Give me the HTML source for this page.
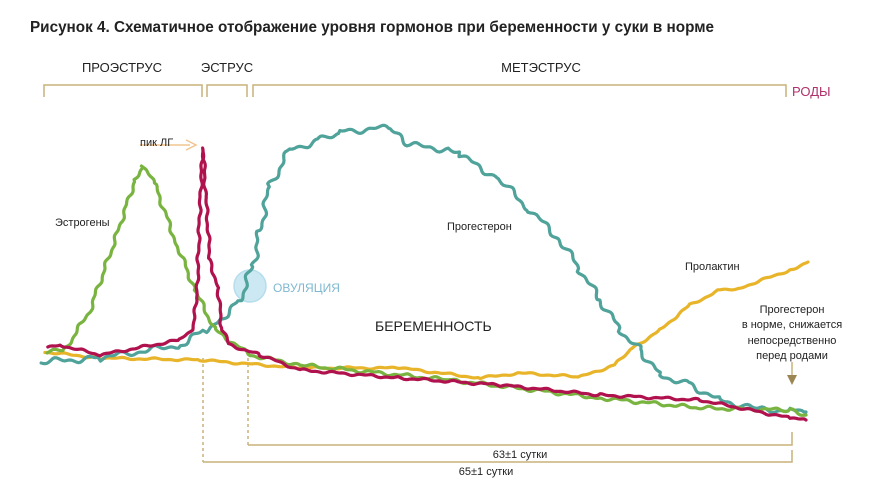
<!DOCTYPE html>
<html><head><meta charset="utf-8"><style>
html,body{margin:0;padding:0;background:#fff}
svg{display:block}
text{font-family:"Liberation Sans","DejaVu Sans",sans-serif}
</style></head><body>
<svg id="s" width="895" height="504" viewBox="0 0 895 504" xmlns="http://www.w3.org/2000/svg">
<text x="30" y="32" font-size="15.5" font-weight="bold" fill="#222" textLength="684" lengthAdjust="spacingAndGlyphs">Рисунок 4. Схематичное отображение уровня гормонов при беременности у суки в норме</text>
<g font-size="13" fill="#222">
<text x="122" y="72" text-anchor="middle">ПРОЭСТРУС</text>
<text x="227" y="72" text-anchor="middle">ЭСТРУС</text>
<text x="541" y="72" text-anchor="middle">МЕТЭСТРУС</text>
</g>
<text x="792" y="96" font-size="13" fill="#b0306a">РОДЫ</text>
<g stroke="#c9b27a" stroke-width="1.5" fill="none">
<path d="M44,97 V85 H202 V97"/>
<path d="M207,97 V85 H247 V97"/>
<path d="M253,97 V85 H786 V97"/>
<path d="M248,445 H792 V432"/>
<path d="M203,462 H792 V450"/>
<path d="M203,358 V462" stroke-dasharray="3,3"/>
<path d="M248,358 V445" stroke-dasharray="3,3"/>
<path d="M792,362 V378"/>
</g>
<path d="M787,375 L792,385 L797,375 Z" fill="#9b8550"/>
<path d="M140,145 H190" stroke="#f1c58f" stroke-width="1.5"/>
<path d="M186,140 L196,145 L186,150" stroke="#f1c58f" stroke-width="1.5" fill="none"/>
<circle cx="250" cy="286" r="16" fill="#c4e6f2" stroke="#a9d8ea" stroke-width="1.5" opacity="0.85"/>
<g id="curves" fill="none" stroke-width="3.2" stroke-linejoin="round" stroke-linecap="round"></g>
<g font-size="11" fill="#222">
<text x="140" y="146">пик ЛГ</text>
<text x="55" y="226">Эстрогены</text>
<text x="447" y="230">Прогестерон</text>
<text x="685" y="270">Пролактин</text>
<g text-anchor="middle"><text x="792" y="313">Прогестерон</text><text x="792" y="328">в норме, снижается</text><text x="792" y="344">непосредственно</text><text x="792" y="359">перед родами</text></g>
<text x="520" y="458" text-anchor="middle">63±1 сутки</text>
<text x="486" y="475" text-anchor="middle">65±1 сутки</text>
</g>
<text x="273" y="292" font-size="12" fill="#7fb8d0">ОВУЛЯЦИЯ</text>
<text x="375" y="331" font-size="14" fill="#222">БЕРЕМЕННОСТЬ</text>
</svg>
<script>
function curve(pts,amp,freq,seed,color,w){
  var d="",first=true;
  for(var i=0;i<pts.length-1;i++){
    var a=pts[i],b=pts[i+1],n=Math.max(2,Math.round(Math.hypot(b[0]-a[0],b[1]-a[1])/2));
    for(var k=0;k<n;k++){
      var t=k/n,x=a[0]+(b[0]-a[0])*t,y=a[1]+(b[1]-a[1])*t;
      var dx=b[0]-a[0],dy=b[1]-a[1],L=Math.hypot(dx,dy)||1;
      var s=(i*37+k)*freq+seed;
      var ww=amp*(Math.sin(s)*0.6+Math.sin(s*2.3+1)*0.4);
      x+=-dy/L*ww;y+=dx/L*ww;
      d+=(first?"M":"L")+x.toFixed(1)+","+y.toFixed(1);first=false;
    }
  }
  var l=pts[pts.length-1];d+="L"+l[0]+","+l[1];
  var p=document.createElementNS("http://www.w3.org/2000/svg","path");
  p.setAttribute("d",d);p.setAttribute("stroke",color);
  if(w)p.setAttribute("stroke-width",w);
  document.getElementById("curves").appendChild(p);
}
curve([[45,352],[100,358],[200,360],[300,368],[400,368],[480,378],[520,373],[580,377],[615,365],[630,350],[660,330],[690,305],[720,290],[740,288],[790,270],[808,262]],1.2,0.35,1,"#e8b42a");
curve([[41,362],[100,358],[180,345],[205,330],[220,320],[240,300],[253,265],[260,230],[270,185],[290,150],[320,140],[340,132],[380,128],[390,130],[410,145],[450,150],[460,155],[500,180],[530,210],[560,240],[580,270],[600,300],[620,330],[640,350],[660,375],[690,385],[720,400],[760,410],[790,410],[806,412]],3.5,0.33,2,"#4fa39a");
curve([[47,352],[65,350],[90,310],[115,240],[135,180],[143,165],[155,185],[175,240],[195,290],[215,330],[250,355],[300,365],[450,380],[600,398],[700,408],[790,410],[806,415]],2,0.4,3,"#79b440");
curve([[48,348],[60,345],[100,355],[180,340],[192,330],[197,300],[200,200],[203,148],[206,200],[210,260],[218,290],[222,330],[230,345],[260,355],[300,370],[400,378],[500,385],[600,395],[700,400],[790,418],[806,420]],1.4,0.4,4,"#b0124e");
</script>
</body></html>
